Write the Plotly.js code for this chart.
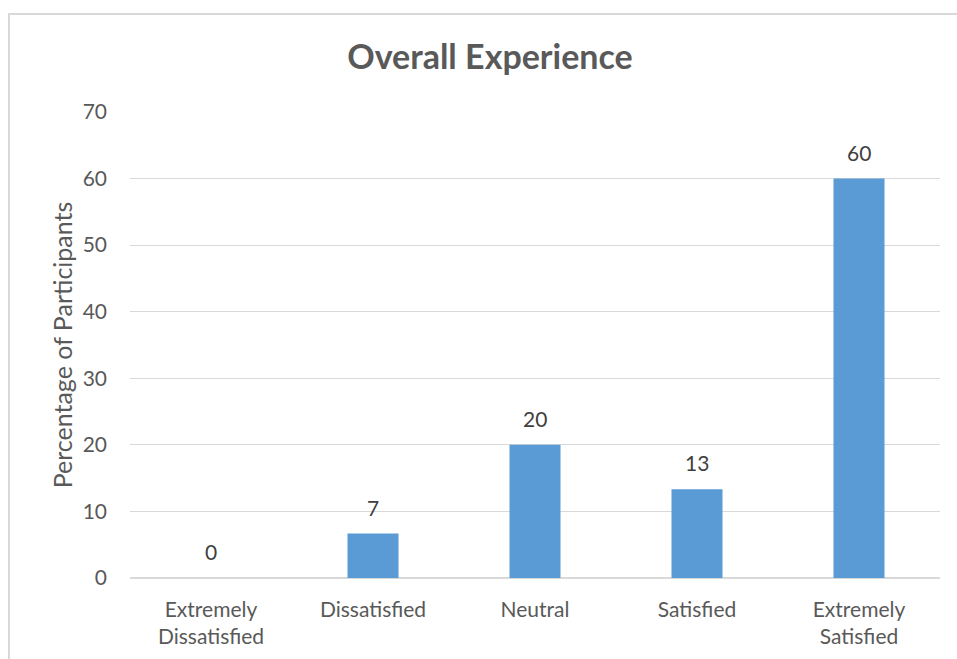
<!DOCTYPE html>
<html><head><meta charset="utf-8">
<script src="https://cdn.plot.ly/plotly-3.0.1.min.js"></script>
<style>
html,body{margin:0;padding:0;background:#fff;overflow:hidden}
#chart{position:absolute;left:0;top:0;width:957px;height:659px}
#frame{position:absolute;left:8px;top:13px;width:1000px;height:700px;border:2px solid #d9d9d9;box-sizing:border-box;pointer-events:none}
</style></head>
<body>
<div id="chart"></div>
<div id="frame"></div>
<script>
const categories = ["Extremely<br>Dissatisfied", "Dissatisfied", "Neutral", "Satisfied", "Extremely<br>Satisfied"];
const values = [0, 6.67, 20, 13.33, 60];
const yTicks = [0, 10, 20, 30, 40, 50, 60, 70];

const FONT = "Lato, 'Open Sans', sans-serif";
const labelAnnotations = categories.map((c, i) => ({
  x: c, y: values[i], xref: 'x', yref: 'y',
  text: String(Math.round(values[i])),
  showarrow: false, yanchor: 'bottom', yshift: 12,
  font: {family: FONT, size: 21, color: '#404040'}
}));

Plotly.newPlot('chart', [{
  type: 'bar',
  x: categories,
  y: values,
  marker: {color: '#5b9bd5'},
  width: 0.315,
  hoverinfo: 'none'
}], {
  width: 957, height: 659,
  margin: {l: 130, r: 17, t: 112, b: 81},
  paper_bgcolor: '#fff', plot_bgcolor: '#fff',
  showlegend: false,
  annotations: labelAnnotations,
  title: {text: '<b>Overall Experience</b>', x: 0.512, xanchor: 'center', y: 0.913, yanchor: 'middle',
          font: {family: FONT, size: 34, color: '#595959'}},
  xaxis: {
    type: 'category', showgrid: false, showline: false, zeroline: false, ticks: '',
    ticklabelstandoff: 17,
    tickfont: {family: FONT, size: 21, color: '#595959'}
  },
  yaxis: {
    range: [0, 70], tickvals: yTicks, showgrid: true, gridcolor: '#d9d9d9', gridwidth: 1,
    zeroline: true, zerolinecolor: '#d9d9d9', zerolinewidth: 1.5, showline: false, ticks: '',
    ticklabelstandoff: 22,
    tickfont: {family: FONT, size: 21, color: '#595959'},
    title: {text: 'Percentage of Participants', standoff: 2, font: {family: FONT, size: 25, color: '#595959'}}
  }
}, {staticPlot: true});
</script>
</body></html>
